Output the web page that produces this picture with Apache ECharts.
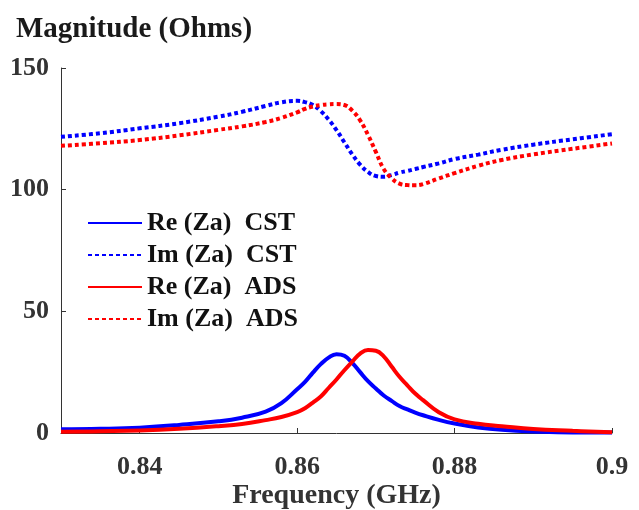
<!DOCTYPE html>
<html>
<head>
<meta charset="utf-8">
<script src="https://cdn.jsdelivr.net/npm/echarts@6/dist/echarts.min.js"></script>
<style>html,body{margin:0;padding:0;background:#fff}#c{width:639px;height:510px}</style>
</head>
<body>
<div id="c"></div>
<script>
const freq = [0.83, 0.835, 0.84, 0.845, 0.85, 0.853, 0.856, 0.858, 0.86, 0.861, 0.862, 0.863, 0.864, 0.865, 0.866, 0.867, 0.868, 0.869, 0.87, 0.871, 0.872, 0.873, 0.874, 0.875, 0.876, 0.878, 0.88, 0.883, 0.886, 0.89, 0.895, 0.9];
const reCST = [1.5, 1.7, 2.2, 3.3, 4.8, 6.3, 8.8, 12.3, 18.0, 21.0, 24.8, 28.3, 31.0, 32.4, 31.7, 28.8, 25.0, 21.3, 18.3, 15.4, 13.2, 11.1, 9.7, 8.4, 7.3, 5.4, 3.9, 2.3, 1.3, 0.6, 0.2, 0.2];
const imCST = [121.7, 123.2, 125.2, 127.3, 130.0, 132.0, 134.4, 135.9, 136.5, 136.0, 134.8, 132.3, 128.8, 124.5, 119.5, 114.5, 110.3, 107.3, 105.6, 105.3, 106.0, 107.0, 107.7, 108.5, 109.3, 110.8, 112.6, 114.4, 116.4, 118.5, 120.7, 122.8];
const reADS = [0.5, 0.7, 1.0, 1.7, 2.8, 3.7, 5.3, 6.6, 8.6, 10.2, 12.5, 15.0, 18.5, 22.0, 25.8, 29.3, 32.6, 34.1, 33.8, 31.5, 27.3, 23.1, 19.6, 16.2, 13.5, 8.5, 5.6, 3.8, 2.8, 1.6, 0.9, 0.3];
const imADS = [118.0, 119.1, 120.4, 122.3, 124.6, 126.0, 127.8, 129.5, 131.8, 133.2, 134.2, 134.8, 135.1, 135.2, 134.8, 132.5, 128.5, 122.5, 115.5, 108.5, 104.7, 102.5, 101.9, 101.8, 102.3, 104.6, 106.8, 109.8, 112.2, 114.5, 116.8, 119.0];
const xTicks = [0.84, 0.86, 0.88, 0.9];
const yTicks = [0, 50, 100, 150];
const names = ['Re (Za)  CST', 'Im (Za)  CST', 'Re (Za)  ADS', 'Im (Za)  ADS'];

const font = 'Liberation Serif, Times New Roman, serif';
const pair = arr => freq.map((f, i) => [f, arr[i]]);
function mk(name, arr, color, dashed) {
  return {
    name, type: 'line', data: pair(arr), showSymbol: false, symbol: 'none', smooth: 0.45,
    lineStyle: { color, width: 4, type: dashed ? [4, 3] : 'solid' },
    itemStyle: { color }
  };
}
const chart = echarts.init(document.getElementById('c'));
chart.setOption({
  animation: false,
  title: { text: 'Magnitude (Ohms)', left: 11, top: 10,
    textStyle: { fontFamily: font, fontWeight: 'bold', fontSize: 29, color: '#1a1a1a' } },
  grid: { left: 61, right: 27, top: 68, bottom: 77, containLabel: false, outerBoundsMode: 'none' },
  legend: {
    orient: 'vertical', left: 82, top: 203, itemWidth: 54, itemHeight: 14, itemGap: 2,
    data: names,
    itemStyle: { opacity: 0 },
    textStyle: { fontFamily: font, fontWeight: 'bold', fontSize: 26, color: '#111', lineHeight: 30 }
  },
  xAxis: {
    type: 'value', min: 0.83, max: 0.9,
    name: 'Frequency (GHz)', nameLocation: 'middle', nameGap: 49, nameMoveOverlap: false,
    nameTextStyle: { fontFamily: font, fontWeight: 'bold', fontSize: 28, color: '#333', verticalAlign: 'top' },
    axisLine: { lineStyle: { color: '#333', width: 1 } },
    axisTick: { inside: true, length: 5, customValues: xTicks, lineStyle: { color: '#333' } },
    axisLabel: { customValues: xTicks, margin: 21, fontFamily: font, fontWeight: 'bold', fontSize: 26, color: '#333',
      formatter: v => String(+(+v).toFixed(2)) },
    splitLine: { show: false }
  },
  yAxis: {
    type: 'value', min: 0, max: 150, interval: 50,
    axisLine: { show: true, lineStyle: { color: '#333', width: 1 } },
    axisTick: { show: true, inside: true, length: 5, lineStyle: { color: '#333' } },
    axisLabel: { margin: 12, fontFamily: font, fontWeight: 'bold', fontSize: 26, color: '#333' },
    splitLine: { show: false }
  },
  series: [
    mk(names[0], reCST, '#0000ff', false),
    mk(names[1], imCST, '#0000ff', true),
    mk(names[2], reADS, '#ff0000', false),
    mk(names[3], imADS, '#ff0000', true)
  ]
});
</script>
</body>
</html>
